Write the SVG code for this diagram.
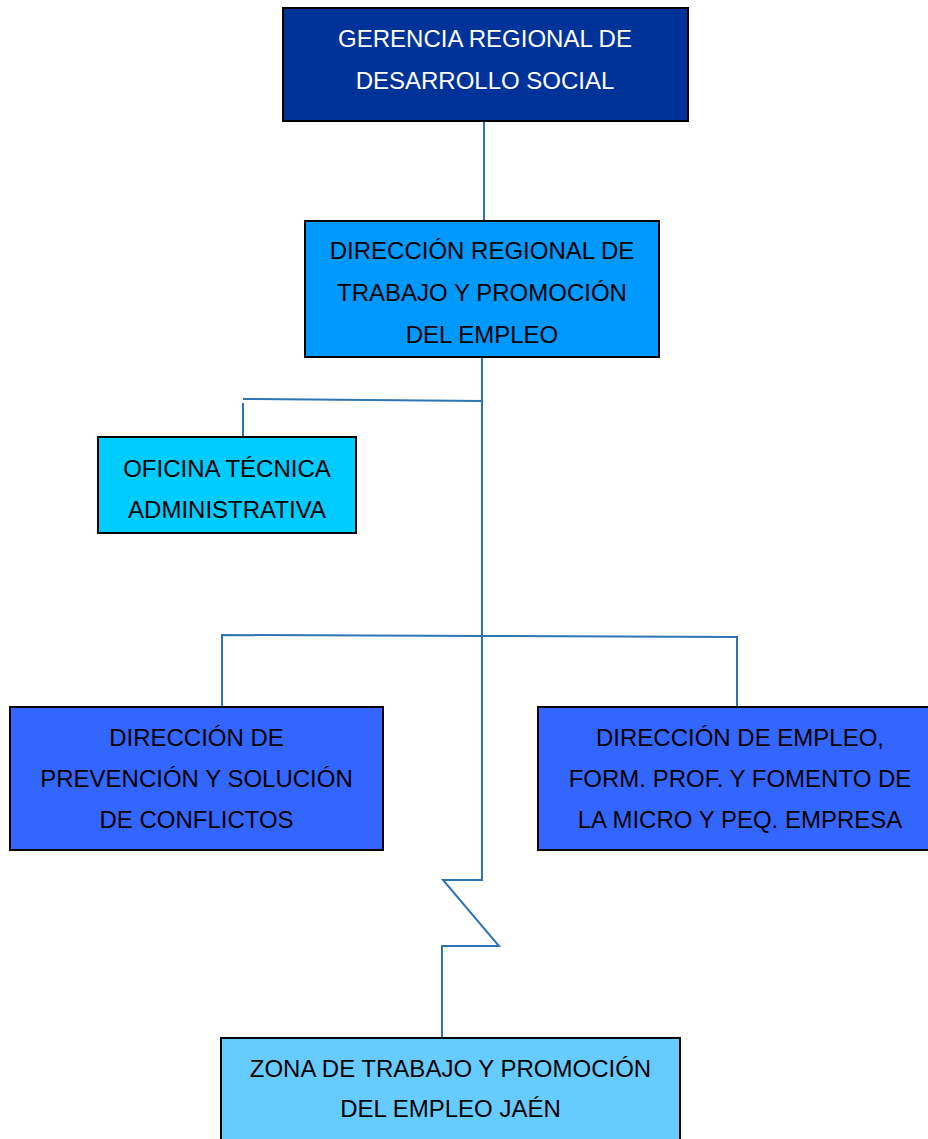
<svg xmlns="http://www.w3.org/2000/svg" width="928" height="1139" viewBox="0 0 928 1139">
<style>
.box{stroke:#000;stroke-width:2}
.t{font-family:"Liberation Sans",Arial,sans-serif;font-size:24px;text-anchor:middle;fill:#000}
.w{fill:#fff}
.c{fill:none;stroke:#2E75B6;stroke-width:2}
</style>
<rect width="928" height="1139" fill="#fff"/>
<g id="connectors">
<path class="c" d="M484 121V221"/>
<path class="c" d="M482 358V880H443L499 946H442V1038"/>
<path class="c" d="M243 399L482 401"/>
<path class="c" d="M243 403V437"/>
<path class="c" d="M222 707V635L482 636L737 637V707"/>
</g>
<g id="n1">
<rect class="box" x="283" y="8" width="405" height="113" fill="#003399"/>
<text class="t w" x="485" y="47">GERENCIA REGIONAL DE</text>
<text class="t w" x="485" y="89">DESARROLLO SOCIAL</text>
</g>
<g id="n2">
<rect class="box" x="305" y="221" width="354" height="136" fill="#0099FF"/>
<text class="t" x="482" y="259">DIRECCIÓN REGIONAL DE</text>
<text class="t" x="482" y="301">TRABAJO Y PROMOCIÓN</text>
<text class="t" x="482" y="343">DEL EMPLEO</text>
</g>
<g id="n3">
<rect class="box" x="98" y="437" width="258" height="96" fill="#00CCFF"/>
<text class="t" x="227" y="477">OFICINA TÉCNICA</text>
<text class="t" x="227" y="518">ADMINISTRATIVA</text>
</g>
<g id="n4">
<rect class="box" x="10" y="707" width="373" height="143" fill="#3366FF"/>
<text class="t" x="196.5" y="746">DIRECCIÓN DE</text>
<text class="t" x="196.5" y="787">PREVENCIÓN Y SOLUCIÓN</text>
<text class="t" x="196.5" y="828">DE CONFLICTOS</text>
</g>
<g id="n5">
<rect class="box" x="538" y="707" width="394" height="143" fill="#3366FF"/>
<text class="t" x="740" y="746">DIRECCIÓN DE EMPLEO,</text>
<text class="t" x="740" y="787">FORM. PROF. Y FOMENTO DE</text>
<text class="t" x="740" y="828">LA MICRO Y PEQ. EMPRESA</text>
</g>
<g id="n6">
<rect class="box" x="221" y="1038" width="459" height="110" fill="#66CCFF"/>
<text class="t" x="450.5" y="1077">ZONA DE TRABAJO Y PROMOCIÓN</text>
<text class="t" x="450.5" y="1117">DEL EMPLEO JAÉN</text>
</g>
</svg>
